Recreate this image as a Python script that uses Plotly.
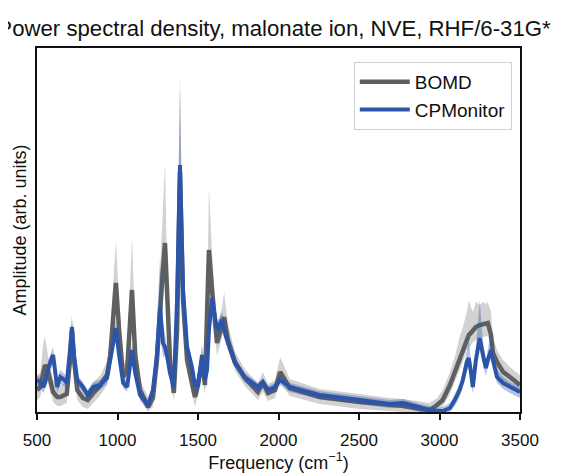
import plotly.graph_objects as go

# Frequencies (cm^-1)
freq = [500, 520, 540, 550, 570, 600, 625, 645, 670, 685, 705, 717, 730, 750, 785, 815, 850, 890,
        935, 955, 972, 990, 1010, 1035, 1060, 1078, 1090, 1110, 1140, 1190, 1220, 1245, 1264, 1282,
        1295, 1307, 1326, 1350, 1370, 1388, 1407, 1432, 1462, 1481, 1500, 1525, 1543, 1556, 1568,
        1587, 1618, 1650, 1662, 1686, 1730, 1790, 1872, 1903, 1935, 1978, 2010, 2070, 2255, 2505,
        2690, 2775, 2880, 2940, 2985, 3020, 3065, 3095, 3125, 3145, 3170, 3182, 3195, 3207, 3226,
        3250, 3270, 3288, 3300, 3320, 3332, 3357, 3395, 3437, 3500]

# BOMD (arb. units)
bomd_mean = [22, 25, 40, 47, 40, 20, 15, 15, 17, 18, 52, 82, 52, 22, 14, 12, 19, 26,
             37, 57, 92, 129, 82, 35, 42, 82, 122, 57, 22, 5, 14, 52, 105, 142,
             169, 112, 52, 19, 82, 240, 112, 52, 27, 15, 27, 52, 27, 82, 162,
             122, 69, 87, 95, 72, 50, 34, 20, 29, 19, 22, 40, 24, 15, 10,
             7, 6, 3, 2, 7, 12, 27, 40, 55, 62, 75, 77, 79, 82, 85,
             87, 88, 89, 89, 77, 59, 50, 40, 35, 27]
bomd_hi = [35, 40, 70, 75, 55, 32, 27, 27, 28, 30, 70, 97, 68, 33, 24, 22, 30, 36,
           50, 75, 125, 172, 110, 46, 55, 120, 175, 80, 32, 15, 26, 72, 140, 200,
           249, 150, 68, 30, 130, 337, 150, 68, 38, 26, 38, 66, 40, 110, 225,
           160, 85, 105, 120, 88, 60, 43, 29, 40, 28, 32, 55, 33, 23, 18,
           14, 13, 10, 9, 14, 22, 40, 55, 75, 85, 100, 112, 105, 100, 110,
           107, 110, 108, 110, 100, 75, 62, 52, 45, 37]
bomd_lo = [12, 15, 28, 33, 28, 10, 6, 6, 8, 9, 40, 70, 40, 12, 5, 3, 9, 16,
           27, 45, 78, 110, 68, 25, 32, 70, 105, 46, 12, 0, 5, 40, 90, 125,
           150, 98, 40, 10, 65, 215, 95, 40, 17, 5, 17, 40, 17, 68, 140,
           105, 56, 75, 82, 62, 41, 26, 12, 20, 11, 14, 30, 16, 8, 3,
           1, 0, -3, -4, 1, 5, 18, 30, 44, 50, 62, 64, 66, 70, 72,
           74, 75, 76, 76, 65, 48, 40, 31, 27, 19]

# CPMonitor (arb. units)
cpm_mean = [32, 30, 25, 29, 44, 57, 25, 35, 32, 29, 62, 85, 57, 32, 25, 17, 25, 27,
            34, 52, 72, 84, 57, 29, 25, 52, 62, 39, 17, 7, 22, 57, 105, 69,
            65, 57, 39, 25, 112, 247, 122, 65, 45, 27, 27, 57, 32, 42, 82,
            114, 82, 92, 82, 69, 49, 35, 25, 30, 22, 25, 32, 25, 17, 12,
            8, 9, 4, 2, 1, 1, 4, 12, 22, 32, 50, 54, 40, 25, 52,
            74, 57, 44, 52, 62, 52, 35, 29, 25, 20]
cpm_hi = [38, 35, 30, 35, 52, 65, 32, 42, 38, 35, 70, 94, 64, 37, 30, 22, 30, 32,
          40, 60, 80, 92, 64, 34, 30, 58, 70, 46, 22, 12, 28, 90, 154, 90,
          78, 66, 45, 30, 140, 325, 140, 75, 52, 33, 33, 66, 38, 50, 95,
          120, 90, 100, 88, 74, 53, 39, 29, 34, 26, 29, 37, 29, 21, 16,
          12, 13, 8, 6, 4, 5, 9, 18, 28, 40, 62, 72, 52, 35, 65,
          112, 70, 52, 62, 82, 62, 42, 35, 30, 25]
cpm_lo = [27, 24, 19, 23, 36, 48, 19, 28, 26, 23, 54, 76, 50, 27, 20, 12, 20, 22,
          28, 45, 64, 76, 50, 24, 20, 46, 55, 33, 12, 2, 16, 45, 80, 55,
          56, 48, 32, 19, 95, 225, 108, 57, 38, 20, 15, 48, 22, 34, 70,
          104, 74, 84, 75, 63, 44, 30, 20, 25, 17, 20, 27, 20, 13, 8,
          4, 5, 0, -2, -4, -3, 0, 6, 15, 25, 42, 45, 30, 18, 44,
          64, 48, 36, 44, 54, 44, 29, 23, 19, 14]

GRAY = "#5f5f62"
BLUE = "#2c55a9"

fig = go.Figure()
# BOMD band + line
fig.add_trace(go.Scatter(x=freq, y=bomd_hi, mode="lines", line=dict(width=0), hoverinfo="skip",
                         showlegend=False))
fig.add_trace(go.Scatter(x=freq, y=bomd_lo, mode="lines", line=dict(width=0), fill="tonexty",
                         fillcolor="rgba(130,130,130,0.36)", hoverinfo="skip", showlegend=False))
fig.add_trace(go.Scatter(x=freq, y=bomd_mean, mode="lines", name="BOMD",
                         line=dict(color=GRAY, width=4.5)))
# CPMonitor band + line
fig.add_trace(go.Scatter(x=freq, y=cpm_hi, mode="lines", line=dict(width=0), hoverinfo="skip",
                         showlegend=False))
fig.add_trace(go.Scatter(x=freq, y=cpm_lo, mode="lines", line=dict(width=0), fill="tonexty",
                         fillcolor="rgba(44,85,169,0.35)", hoverinfo="skip", showlegend=False))
fig.add_trace(go.Scatter(x=freq, y=cpm_mean, mode="lines", name="CPMonitor",
                         line=dict(color=BLUE, width=4)))

FONT = "Liberation Sans, Arial, Helvetica, sans-serif"

# The page places the figure 8px in from the top-left corner, so margins compensate.
fig.update_layout(
    width=561, height=476,
    margin=dict(l=29, r=49, t=40, b=72, autoexpand=False),
    paper_bgcolor="white", plot_bgcolor="white",
    font=dict(family=FONT, size=17, color="#111111"),
    title=dict(text="Power spectral density, malonate ion, NVE, RHF/6-31G*",
               x=266 / 561, xref="container", xanchor="center",
               y=1 - 20 / 476, yref="container", yanchor="middle",
               font=dict(family=FONT, size=22.2, color="#111111")),
    showlegend=True,
    legend=dict(x=0.983, y=0.9615, xanchor="right", yanchor="top",
                bgcolor="white", bordercolor="#d0d0d0", borderwidth=1,
                font=dict(family=FONT, size=19, color="#111111"),
                itemwidth=50, tracegroupgap=0, traceorder="normal"),
    xaxis=dict(range=[500, 3500], tickmode="array",
               tickvals=[500, 1000, 1500, 2000, 2500, 3000, 3500],
               ticks="outside", ticklen=6, tickwidth=1.5, tickcolor="#111111",
               tickfont=dict(family=FONT, size=17), ticklabelstandoff=6,
               showline=True, linecolor="#111111", linewidth=1.5, mirror=True,
               showgrid=False, zeroline=False, automargin=False,
               title=dict(text="Frequency (cm<sup>−1</sup>)", standoff=4,
                          font=dict(family=FONT, size=18))),
    yaxis=dict(range=[0, 364], showticklabels=False, ticks="",
               showline=True, linecolor="#111111", linewidth=1.5, mirror=True,
               showgrid=False, zeroline=False, automargin=False,
               title=dict(text="Amplitude (arb. units)", standoff=4,
                          font=dict(family=FONT, size=18))),
)

fig.write_html("out.html")
